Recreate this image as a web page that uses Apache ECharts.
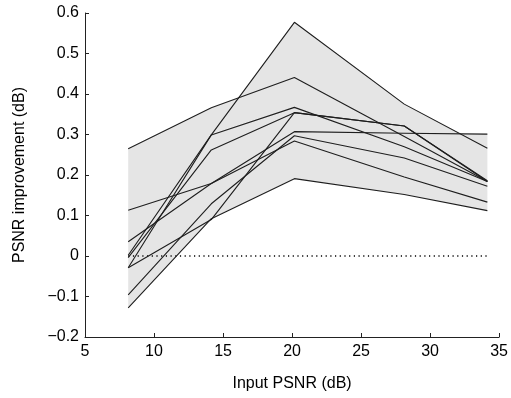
<!DOCTYPE html>
<html>
<head>
<meta charset="utf-8">
<script src="https://cdn.jsdelivr.net/npm/echarts@6/dist/echarts.min.js"></script>
<style>
html,body{margin:0;padding:0;background:#fff;}
#chart{width:511px;height:398px;}
</style>
</head>
<body>
<div id="chart"></div>
<script>
// Input PSNR (dB) positions
const inputPSNR = [8.13, 14.15, 20.17, 28.13, 34.15];
// PSNR improvement curves (dB)
const curve1 = [0.265, 0.366, 0.441, 0.295, 0.184];
const curve2 = [0.113, 0.179, 0.307, 0.303, 0.301];
const curve3 = [0.035, 0.179, 0.284, 0.195, 0.133];
const curve4 = [0.002, 0.299, 0.367, 0.270, 0.184];
const curve5 = [-0.004, 0.262, 0.354, 0.321, 0.184];
const curve6 = [-0.029, 0.090, 0.354, 0.321, 0.186];
const curve7 = [-0.029, 0.299, 0.577, 0.375, 0.266];
const curve8 = [-0.096, 0.129, 0.297, 0.242, 0.172];
const curve9 = [-0.128, 0.092, 0.191, 0.152, 0.112];
const curves = [curve1, curve2, curve3, curve4, curve5, curve6, curve7, curve8, curve9];
const xTicks = [5, 10, 15, 20, 25, 30, 35];
const yTicks = [-0.2, -0.1, 0, 0.1, 0.2, 0.3, 0.4, 0.5, 0.6];

// pointwise envelope of the piecewise-linear curves (including crossing points)
function envelope(pick) {
  const out = [];
  for (let i = 0; i < inputPSNR.length - 1; i++) {
    const x0 = inputPSNR[i], x1 = inputPSNR[i + 1];
    const ts = [0, 1];
    for (let a = 0; a < curves.length; a++) {
      for (let b = a + 1; b < curves.length; b++) {
        const d0 = curves[a][i] - curves[b][i];
        const d1 = curves[a][i + 1] - curves[b][i + 1];
        if (d0 * d1 < 0) ts.push(d0 / (d0 - d1));
      }
    }
    ts.sort((p, q) => p - q);
    ts.forEach(t => {
      if (i > 0 && t === 0) return;
      const vals = curves.map(c => c[i] + (c[i + 1] - c[i]) * t);
      out.push([x0 + (x1 - x0) * t, pick(...vals)]);
    });
  }
  return out;
}
const upper = envelope(Math.max);
const lower = envelope(Math.min);
const bandData = upper.concat(lower.slice().reverse());

const pairs = arr => inputPSNR.map((x, i) => [x, arr[i]]);
const fmtY = v => {
  const r = Math.round(v * 10) / 10;
  if (r === 0) return '0';
  return (r < 0 ? '\u2212' : '') + Math.abs(r).toFixed(1);
};
const FONT = 'Liberation Sans, Arial, Helvetica, sans-serif';

const series = [];
series.push({
  type: 'custom', silent: true, z: 1,
  data: [0],
  renderItem: function (params, api) {
    const pts = bandData.map(p => api.coord(p));
    return { type: 'polygon', shape: { points: pts }, style: { fill: '#e5e5e5', stroke: null } };
  }
});
series.push({
  type: 'line', data: [[inputPSNR[0], 0], [inputPSNR[inputPSNR.length - 1], 0]], symbol: 'none',
  lineStyle: { color: '#000', width: 1.3, type: [1.2, 3.5] }, z: 2
});
curves.forEach(c => series.push({
  type: 'line', data: pairs(c), symbol: 'none',
  lineStyle: { color: '#1e1e1e', width: 1.1 }, z: 3
}));

const chart = echarts.init(document.getElementById('chart'), null, { renderer: 'canvas' });
chart.setOption({
  animation: false,
  backgroundColor: '#fff',
  grid: { left: 85, right: 9, top: 13, bottom: 61, containLabel: false },
  xAxis: {
    type: 'value', min: xTicks[0], max: xTicks[xTicks.length - 1], interval: 5,
    name: 'Input PSNR (dB)', nameLocation: 'middle', nameGap: 39,
    nameTextStyle: { fontFamily: FONT, fontSize: 16, color: '#000' },
    axisLine: { show: true, onZero: false, lineStyle: { color: '#222', width: 1 } },
    axisTick: { show: true, inside: true, length: 4, lineStyle: { color: '#222' } },
    axisLabel: { fontFamily: FONT, fontSize: 16, color: '#000', margin: 7 },
    splitLine: { show: false }
  },
  yAxis: {
    type: 'value', min: yTicks[0], max: yTicks[yTicks.length - 1], interval: 0.1,
    name: 'PSNR improvement (dB)', nameLocation: 'middle', nameGap: 57,
    nameTextStyle: { fontFamily: FONT, fontSize: 16, color: '#000' },
    axisLine: { show: true, onZero: false, lineStyle: { color: '#222', width: 1 } },
    axisTick: { show: true, inside: true, length: 4, lineStyle: { color: '#222' } },
    axisLabel: { fontFamily: FONT, fontSize: 16, color: '#000', margin: 6, formatter: fmtY },
    splitLine: { show: false }
  },
  series: series
});
</script>
</body>
</html>
